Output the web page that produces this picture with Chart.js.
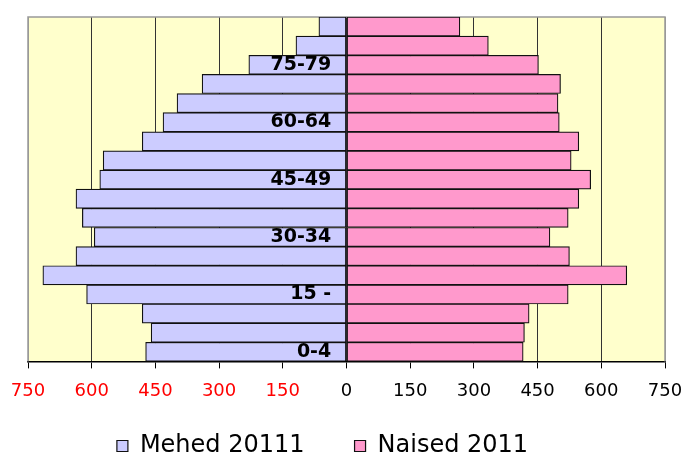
<!DOCTYPE html>
<html>
<head>
<meta charset="utf-8">
<script src="https://cdn.jsdelivr.net/npm/chart.js@4.4.0/dist/chart.umd.min.js"></script>
<style>
  html, body { margin: 0; padding: 0; background: #ffffff; }
  #wrap { width: 685px; height: 453px; }
</style>
</head>
<body>
<div id="wrap"><canvas id="c" width="685" height="453"></canvas></div>
<script>
// Age groups, bottom (0-4) to top (85+)
const categories = ['0-4','5-9','10-14','15-19','20-24','25-29','30-34','35-39','40-44',
                    '45-49','50-54','55-59','60-64','65-69','70-74','75-79','80-84','85+'];
// Axis labels as printed on the chart (every third group)
const tickLabels = ['0-4','','','15 -','','','30-34','','','45-49','','','60-64','','','75-79','',''];
// Men 2011 (drawn to the left)
const males = [473, 460, 481, 612, 715, 637, 594, 622, 637, 581, 573, 481, 432, 399, 340, 230, 119, 65];
// Women 2011 (drawn to the right)
const females = [416, 419, 430, 522, 660, 525, 479, 522, 547, 575, 529, 547, 501, 498, 504, 452, 334, 267];
const seriesNames = ['Mehed 20111', 'Naised 2011'];
const xTicks = [-750, -600, -450, -300, -150, 0, 150, 300, 450, 600, 750];

const FONT = '"DejaVu Sans", Verdana, sans-serif';

const plotFrame = {
  id: 'plotFrame',
  beforeDraw(chart) {
    const a = chart.chartArea, ctx = chart.ctx;
    ctx.save();
    ctx.fillStyle = '#FFFFCC';
    ctx.fillRect(a.left, a.top, a.right - a.left, a.bottom - a.top);
    ctx.restore();
  },
  beforeDatasetsDraw(chart) {
    const a = chart.chartArea, ctx = chart.ctx;
    ctx.save();
    ctx.strokeStyle = '#999999';
    ctx.lineWidth = 1.5;
    ctx.beginPath();
    ctx.moveTo(a.left, a.bottom);
    ctx.lineTo(a.left, a.top);
    ctx.lineTo(a.right, a.top);
    ctx.lineTo(a.right, a.bottom);
    ctx.stroke();
    ctx.restore();
  },
  afterLayout(chart) {
    const lg = chart.legend;
    if (!lg) return;
    const dx = -24;
    lg.left += dx; lg.right += dx;
    lg.top = 384; lg.bottom = 453;
    lg.height = lg.bottom - lg.top;
  }
};

new Chart(document.getElementById('c'), {
  type: 'bar',
  data: {
    labels: categories,
    datasets: [
      {
        label: seriesNames[0],
        data: males.map(v => -v),
        backgroundColor: '#CCCCFF',
        borderColor: '#111111',
        borderWidth: 1.2,
        borderSkipped: false
      },
      {
        label: seriesNames[1],
        data: females,
        backgroundColor: '#FF99CC',
        borderColor: '#111111',
        borderWidth: 1.2,
        borderSkipped: false
      }
    ]
  },
  options: {
    indexAxis: 'y',
    responsive: false,
    animation: false,
    devicePixelRatio: 1,
    layout: { padding: { left: 28, right: 20, top: 17, bottom: 0 } },
    datasets: { bar: { categoryPercentage: 1.0, barPercentage: 1.0 } },
    scales: {
      x: {
        type: 'linear',
        stacked: true,
        min: -750,
        max: 750,
        afterBuildTicks(axis) { axis.ticks = xTicks.map(v => ({ value: v })); },
        afterFit(axis) { axis.paddingLeft = 0; axis.paddingRight = 0; },
        ticks: {
          callback: (v) => String(Math.abs(v)),
          color: (ctx) => (ctx.tick && ctx.tick.value < 0) ? '#FF0000' : '#000000',
          font: { family: FONT, size: 18 },
          padding: 12,
          maxRotation: 0,
          autoSkip: false
        },
        grid: {
          color: (ctx) => (ctx.tick && Math.abs(ctx.tick.value) === 750) ? '#999999' : '#333333',
          lineWidth: 1,
          drawTicks: true,
          tickLength: 7,
          tickColor: '#000000'
        },
        border: { display: true, color: '#000000', width: 1.5 }
      },
      y: {
        type: 'category',
        stacked: true,
        reverse: true,
        position: { x: -36 },
        afterFit(axis) { axis.paddingTop = 0; axis.paddingBottom = 0; },
        ticks: {
          autoSkip: false,
          callback: (v, i) => tickLabels[i],
          color: '#000000',
          font: { family: FONT, size: 19, weight: 'bold' },
          padding: 0,
          z: 1
        },
        grid: { display: false, drawTicks: false },
        border: { display: false }
      }
    },
    plugins: {
      legend: {
        position: 'bottom',
        maxHeight: 39,
        labels: {
          color: '#000000',
          font: { family: FONT, size: 24 },
          boxWidth: 11,
          boxHeight: 11,
          padding: 50
        }
      },
      tooltip: { enabled: false },
      title: { display: false }
    }
  },
  plugins: [plotFrame]
});
</script>
</body>
</html>
